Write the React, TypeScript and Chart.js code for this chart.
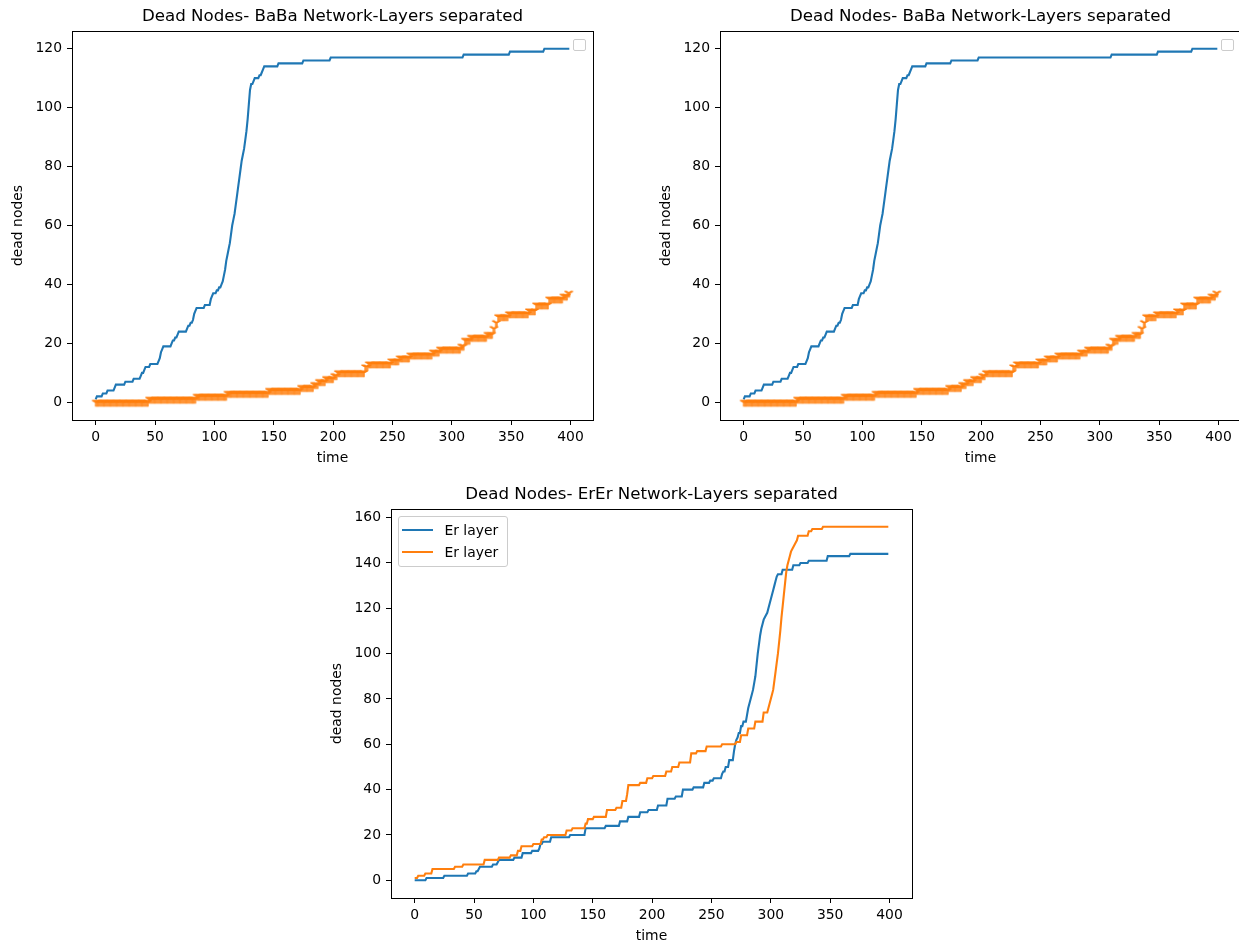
import React, { useEffect, useRef } from "react";
import { Chart, registerables } from "chart.js";

Chart.register(...registerables);

// ---------- data (one value per time step, t = 0..399) ----------
const babaLayer1: number[] = [
  1, 2, 2, 2, 2, 2, 3, 3, 3, 3, 4, 4, 4, 4, 4, 4, 5, 6, 6, 6,
  6, 6, 6, 6, 6, 7, 7, 7, 7, 7, 7, 7, 8, 8, 8, 8, 8, 8, 9, 10,
  10, 11, 12, 12, 12, 12, 13, 13, 13, 13, 13, 13, 13, 14, 15, 17, 18, 19, 19, 19,
  19, 19, 19, 19, 20, 21, 21, 22, 22, 23, 24, 24, 24, 24, 24, 24, 24, 25, 26, 26,
  27, 27, 28, 30, 31, 32, 32, 32, 32, 32, 32, 32, 33, 33, 33, 33, 33, 35, 36, 37,
  37, 37, 38, 38, 39, 39, 40, 41, 43, 45, 48, 50, 52, 54, 57, 60, 62, 64, 67, 70,
  73, 76, 79, 82, 84, 86, 89, 92, 96, 101, 106, 108, 108, 109, 110, 110, 110, 110, 111, 111,
  112, 113, 114, 114, 114, 114, 114, 114, 114, 114, 114, 114, 114, 114, 115, 115, 115, 115, 115, 115,
  115, 115, 115, 115, 115, 115, 115, 115, 115, 115, 115, 115, 115, 115, 115, 116, 116, 116, 116, 116,
  116, 116, 116, 116, 116, 116, 116, 116, 116, 116, 116, 116, 116, 116, 116, 116, 116, 116, 117, 117,
  117, 117, 117, 117, 117, 117, 117, 117, 117, 117, 117, 117, 117, 117, 117, 117, 117, 117, 117, 117,
  117, 117, 117, 117, 117, 117, 117, 117, 117, 117, 117, 117, 117, 117, 117, 117, 117, 117, 117, 117,
  117, 117, 117, 117, 117, 117, 117, 117, 117, 117, 117, 117, 117, 117, 117, 117, 117, 117, 117, 117,
  117, 117, 117, 117, 117, 117, 117, 117, 117, 117, 117, 117, 117, 117, 117, 117, 117, 117, 117, 117,
  117, 117, 117, 117, 117, 117, 117, 117, 117, 117, 117, 117, 117, 117, 117, 117, 117, 117, 117, 117,
  117, 117, 117, 117, 117, 117, 117, 117, 117, 117, 118, 118, 118, 118, 118, 118, 118, 118, 118, 118,
  118, 118, 118, 118, 118, 118, 118, 118, 118, 118, 118, 118, 118, 118, 118, 118, 118, 118, 118, 118,
  118, 118, 118, 118, 118, 118, 118, 118, 118, 119, 119, 119, 119, 119, 119, 119, 119, 119, 119, 119,
  119, 119, 119, 119, 119, 119, 119, 119, 119, 119, 119, 119, 119, 119, 119, 119, 119, 119, 120, 120,
  120, 120, 120, 120, 120, 120, 120, 120, 120, 120, 120, 120, 120, 120, 120, 120, 120, 120, 120, 120,
];

const babaLayer2: number[] = [
  0, 0, 0, 0, 0, 0, 0, 0, 0, 0, 0, 0, 0, 0, 0, 0, 0, 0, 0, 0,
  0, 0, 0, 0, 0, 0, 0, 0, 0, 0, 0, 0, 0, 0, 0, 0, 0, 0, 0, 0,
  0, 0, 0, 0, 0, 1, 1, 1, 1, 1, 1, 1, 1, 1, 1, 1, 1, 1, 1, 1,
  1, 1, 1, 1, 1, 1, 1, 1, 1, 1, 1, 1, 1, 1, 1, 1, 1, 1, 1, 1,
  1, 1, 1, 1, 1, 2, 2, 2, 2, 2, 2, 2, 2, 2, 2, 2, 2, 2, 2, 2,
  2, 2, 2, 2, 2, 2, 2, 2, 2, 2, 2, 3, 3, 3, 3, 3, 3, 3, 3, 3,
  3, 3, 3, 3, 3, 3, 3, 3, 3, 3, 3, 3, 3, 3, 3, 3, 3, 3, 3, 3,
  3, 3, 3, 3, 3, 3, 4, 4, 4, 4, 4, 4, 4, 4, 4, 4, 4, 4, 4, 4,
  4, 4, 4, 4, 4, 4, 4, 4, 4, 4, 4, 4, 4, 5, 5, 5, 5, 5, 5, 5,
  5, 5, 5, 5, 6, 6, 6, 6, 7, 7, 7, 7, 7, 7, 8, 8, 8, 8, 8, 8,
  8, 9, 9, 9, 10, 10, 10, 10, 10, 10, 10, 10, 10, 10, 10, 10, 10, 10, 10, 10,
  10, 10, 10, 10, 10, 10, 10, 12, 12, 12, 13, 13, 13, 13, 13, 13, 13, 13, 13, 13,
  13, 13, 13, 13, 13, 13, 13, 13, 13, 14, 14, 14, 14, 14, 14, 14, 15, 15, 15, 15,
  15, 15, 15, 15, 15, 16, 16, 16, 16, 16, 16, 16, 16, 16, 16, 16, 16, 16, 16, 16,
  16, 16, 16, 16, 17, 17, 17, 17, 17, 17, 18, 18, 18, 18, 18, 18, 18, 18, 18, 18,
  18, 18, 18, 18, 18, 18, 18, 18, 19, 19, 19, 21, 21, 21, 21, 21, 22, 22, 22, 22,
  22, 22, 22, 22, 22, 22, 22, 22, 22, 22, 23, 23, 23, 23, 23, 25, 25, 27, 27, 29,
  29, 29, 29, 29, 29, 29, 29, 29, 30, 30, 30, 30, 30, 30, 30, 30, 30, 30, 30, 30,
  30, 30, 30, 30, 30, 31, 31, 31, 31, 31, 31, 33, 33, 33, 33, 33, 33, 33, 33, 33,
  33, 33, 35, 35, 35, 35, 35, 35, 35, 35, 35, 35, 35, 35, 36, 36, 36, 36, 37, 37,
];

const erLayerA: number[] = [
  0, 0, 0, 0, 0, 0, 0, 0, 0, 0, 1, 1, 1, 1, 1, 1, 1, 1, 1, 1,
  1, 1, 1, 1, 1, 2, 2, 2, 2, 2, 2, 2, 2, 2, 2, 2, 2, 2, 2, 2,
  2, 2, 2, 2, 2, 3, 3, 3, 3, 3, 3, 3, 4, 4, 5, 6, 6, 6, 6, 6,
  6, 6, 6, 6, 6, 6, 7, 7, 7, 7, 8, 9, 9, 9, 9, 9, 9, 9, 9, 9,
  9, 9, 9, 9, 10, 10, 10, 10, 10, 10, 10, 12, 12, 12, 12, 12, 12, 12, 12, 13,
  13, 13, 13, 13, 13, 14, 16, 16, 17, 17, 17, 17, 17, 17, 17, 19, 19, 19, 19, 19,
  19, 19, 19, 19, 19, 19, 19, 19, 19, 19, 19, 20, 20, 20, 20, 20, 20, 20, 20, 20,
  20, 20, 20, 20, 23, 23, 23, 23, 23, 23, 23, 23, 23, 23, 23, 23, 23, 23, 23, 23,
  23, 24, 24, 24, 24, 24, 24, 24, 24, 24, 24, 24, 24, 26, 26, 26, 26, 26, 26, 26,
  28, 28, 28, 28, 28, 28, 28, 28, 28, 28, 30, 30, 30, 30, 30, 30, 30, 31, 31, 31,
  31, 31, 31, 31, 31, 33, 33, 33, 33, 33, 33, 33, 33, 36, 36, 36, 36, 36, 36, 36,
  37, 37, 37, 37, 37, 37, 40, 40, 40, 40, 40, 40, 40, 40, 40, 41, 41, 41, 41, 41,
  41, 41, 41, 41, 43, 43, 43, 43, 43, 44, 44, 44, 45, 45, 45, 45, 45, 45, 45, 47,
  48, 48, 50, 50, 50, 53, 53, 53, 53, 57, 60, 62, 63, 65, 65, 68, 68, 70, 70, 70,
  73, 76, 78, 80, 82, 84, 87, 90, 95, 100, 104, 108, 111, 113, 115, 116, 117, 118, 120, 122,
  124, 126, 128, 130, 132, 134, 135, 135, 135, 135, 137, 137, 137, 137, 137, 137, 137, 137, 137, 139,
  139, 139, 139, 139, 139, 140, 140, 140, 140, 140, 140, 140, 141, 141, 141, 141, 141, 141, 141, 141,
  141, 141, 141, 141, 141, 141, 141, 141, 143, 143, 143, 143, 143, 143, 143, 143, 143, 143, 143, 143,
  143, 143, 143, 143, 143, 143, 143, 144, 144, 144, 144, 144, 144, 144, 144, 144, 144, 144, 144, 144,
  144, 144, 144, 144, 144, 144, 144, 144, 144, 144, 144, 144, 144, 144, 144, 144, 144, 144, 144, 144,
];

const erLayerB: number[] = [
  1, 1, 1, 2, 2, 2, 2, 2, 2, 3, 3, 3, 3, 3, 3, 5, 5, 5, 5, 5,
  5, 5, 5, 5, 5, 5, 5, 5, 5, 5, 5, 5, 5, 5, 6, 6, 6, 6, 6, 6,
  6, 7, 7, 7, 7, 7, 7, 7, 7, 7, 7, 7, 7, 7, 7, 7, 7, 7, 7, 9,
  9, 9, 9, 9, 9, 9, 9, 9, 9, 9, 9, 10, 10, 10, 10, 10, 10, 10, 10, 10,
  10, 11, 11, 11, 11, 11, 11, 13, 13, 13, 15, 15, 15, 15, 15, 15, 15, 15, 15, 15,
  16, 16, 16, 16, 16, 16, 16, 18, 18, 19, 19, 19, 20, 20, 20, 20, 20, 20, 20, 20,
  20, 20, 20, 20, 20, 20, 20, 20, 22, 22, 22, 22, 22, 23, 23, 23, 23, 23, 23, 23,
  23, 23, 23, 23, 25, 25, 27, 27, 27, 27, 27, 28, 28, 28, 28, 28, 28, 28, 28, 28,
  28, 28, 31, 31, 31, 31, 31, 31, 31, 31, 32, 32, 32, 32, 32, 35, 35, 35, 35, 38,
  42, 42, 42, 42, 42, 42, 42, 42, 42, 42, 43, 43, 43, 43, 43, 43, 45, 45, 45, 45,
  45, 46, 46, 46, 46, 46, 46, 46, 46, 46, 46, 46, 48, 48, 48, 48, 48, 50, 50, 50,
  50, 50, 50, 52, 52, 52, 52, 52, 52, 52, 52, 52, 52, 56, 56, 56, 56, 56, 57, 57,
  57, 57, 57, 57, 57, 57, 59, 59, 59, 59, 59, 59, 59, 59, 59, 59, 59, 59, 59, 60,
  60, 60, 60, 60, 60, 60, 60, 60, 60, 60, 60, 61, 61, 61, 61, 64, 64, 64, 64, 64,
  64, 67, 67, 67, 67, 67, 67, 70, 70, 70, 70, 70, 70, 70, 74, 74, 74, 74, 76, 78,
  80, 82, 84, 88, 92, 96, 100, 105, 110, 116, 121, 126, 131, 136, 139, 141, 143, 145, 146, 147,
  148, 149, 150, 152, 152, 152, 152, 152, 152, 152, 152, 152, 154, 154, 154, 155, 155, 155, 155, 155,
  155, 155, 155, 155, 156, 156, 156, 156, 156, 156, 156, 156, 156, 156, 156, 156, 156, 156, 156, 156,
  156, 156, 156, 156, 156, 156, 156, 156, 156, 156, 156, 156, 156, 156, 156, 156, 156, 156, 156, 156,
  156, 156, 156, 156, 156, 156, 156, 156, 156, 156, 156, 156, 156, 156, 156, 156, 156, 156, 156, 156,
];

const xTicks: number[] = [0, 50, 100, 150, 200, 250, 300, 350, 400];
const babaYTicks: number[] = [0, 20, 40, 60, 80, 100, 120];
const erYTicks: number[] = [0, 20, 40, 60, 80, 100, 120, 140, 160];

const babaTitle = "Dead Nodes- BaBa Network-Layers separated";
const erTitle = "Dead Nodes- ErEr Network-Layers separated";
const erLabels: string[] = ["Er layer", "Er layer"];
const xLabel = "time";
const yLabel = "dead nodes";

// ---------- style ----------
const BLUE = "#1f77b4";
const ORANGE = "#ff7f0e";
const FONT = "'DejaVu Sans', sans-serif";

const toPoints = (vals: number[]) => vals.map((v, i) => ({ x: i, y: v }));

function makeTriDown(color: string): HTMLCanvasElement {
  const c = document.createElement("canvas");
  c.width = 12;
  c.height = 12;
  const g = c.getContext("2d")!;
  g.strokeStyle = color;
  g.lineWidth = 1.4;
  const cx = 6, cy = 6, r = 4.17;
  g.beginPath();
  g.moveTo(cx, cy);
  g.lineTo(cx, cy + r);
  g.moveTo(cx, cy);
  g.lineTo(cx - 0.866 * r, cy - 0.5 * r);
  g.moveTo(cx, cy);
  g.lineTo(cx + 0.866 * r, cy - 0.5 * r);
  g.stroke();
  return c;
}

const framePlugin = {
  id: "frame",
  afterDraw(chart: any) {
    const { ctx, chartArea: a } = chart;
    ctx.save();
    ctx.strokeStyle = "#000";
    ctx.lineWidth = 1;
    ctx.beginPath();
    ctx.moveTo(a.left, a.top + 0.5);
    ctx.lineTo(a.right + 1, a.top + 0.5);
    ctx.moveTo(a.right + 0.5, a.top);
    ctx.lineTo(a.right + 0.5, a.bottom + 1);
    ctx.stroke();
    ctx.restore();
  },
};

function makeConfig(datasets: any[], title: string, yMin: number, yMax: number, yTicks: number[]): any {
  const tickFont = { family: FONT, size: 13.9 };
  const grid = {
    display: true,
    drawOnChartArea: false,
    drawTicks: true,
    tickLength: 5,
    tickColor: "#000",
    tickWidth: 1,
  };
  const border = { display: true, color: "#000", width: 1 };
  return {
    type: "line",
    data: { datasets },
    options: {
      responsive: false,
      animation: false,
      events: [],
      layout: { padding: { left: 0, right: 27, top: 0, bottom: 0 } },
      plugins: {
        legend: { display: false },
        tooltip: { enabled: false },
        title: {
          display: true,
          text: title,
          color: "#000",
          fullSize: false,
          font: { family: FONT, size: 16.67, weight: "normal" },
          padding: { top: 7, bottom: 4 },
        },
      },
      scales: {
        x: {
          type: "linear",
          min: -19.95,
          max: 418.95,
          afterBuildTicks: (s: any) => {
            s.ticks = xTicks.map((v) => ({ value: v }));
          },
          afterFit: (s: any) => {
            s.height = 50;
          },
          ticks: { autoSkip: false, maxRotation: 0, minRotation: 0, padding: 4.5, color: "#000", font: tickFont },
          grid,
          border,
          title: {
            display: true,
            text: xLabel,
            color: "#000",
            font: tickFont,
            padding: { top: 0, bottom: 3.7 },
          },
        },
        y: {
          type: "linear",
          min: yMin,
          max: yMax,
          afterBuildTicks: (s: any) => {
            s.ticks = yTicks.map((v) => ({ value: v }));
          },
          afterFit: (s: any) => {
            s.width = 72;
          },
          ticks: { padding: 5, color: "#000", font: tickFont },
          grid,
          border,
          title: {
            display: true,
            text: yLabel,
            color: "#000",
            font: tickFont,
            padding: { top: 10.5, bottom: 0 },
          },
        },
      },
    },
    plugins: [framePlugin],
  };
}

function babaDatasets(tri: HTMLCanvasElement) {
  return [
    {
      label: "layer 1",
      data: toPoints(babaLayer1),
      borderColor: BLUE,
      backgroundColor: BLUE,
      borderWidth: 2.1,
      pointRadius: 0,
      tension: 0,
      order: 2,
    },
    {
      label: "layer 2",
      data: toPoints(babaLayer2),
      borderColor: ORANGE,
      backgroundColor: ORANGE,
      showLine: false,
      pointStyle: tri,
      pointRadius: 4,
      order: 1,
    },
  ];
}

function erDatasets() {
  return [
    {
      label: erLabels[0],
      data: toPoints(erLayerA),
      borderColor: BLUE,
      backgroundColor: BLUE,
      borderWidth: 2.1,
      pointRadius: 0,
      tension: 0,
      order: 2,
    },
    {
      label: erLabels[1],
      data: toPoints(erLayerB),
      borderColor: ORANGE,
      backgroundColor: ORANGE,
      borderWidth: 2.1,
      pointRadius: 0,
      tension: 0,
      order: 1,
    },
  ];
}

const canvasStyle = (left: number, top: number): React.CSSProperties => ({
  position: "absolute",
  left,
  top,
  width: 620,
  height: 470,
});

const emptyLegendStyle = (left: number): React.CSSProperties => ({
  position: "absolute",
  left,
  top: 39,
  width: 13,
  height: 12,
  boxSizing: "border-box",
  border: "1px solid #cccccc",
  borderRadius: 2,
  background: "rgba(255,255,255,0.8)",
});

export default function App() {
  const refA = useRef<HTMLCanvasElement>(null);
  const refB = useRef<HTMLCanvasElement>(null);
  const refC = useRef<HTMLCanvasElement>(null);

  useEffect(() => {
    Chart.defaults.font.family = FONT;
    const tri = makeTriDown(ORANGE);
    const charts = [
      new Chart(refA.current!, makeConfig(babaDatasets(tri), babaTitle, -6, 126, babaYTicks)),
      new Chart(refB.current!, makeConfig(babaDatasets(tri), babaTitle, -6, 126, babaYTicks)),
      new Chart(refC.current!, makeConfig(erDatasets(), erTitle, -7.8, 163.8, erYTicks)),
    ];
    return () => charts.forEach((c) => c.destroy());
  }, []);

  const legendColors = [BLUE, ORANGE];

  return (
    <div
      style={{
        position: "fixed",
        left: 0,
        top: 0,
        width: 1239,
        height: 943,
        overflow: "hidden",
        background: "#fff",
        fontFamily: FONT,
      }}
    >
      <canvas ref={refA} width={620} height={470} style={canvasStyle(0, 0)} />
      <canvas ref={refB} width={620} height={470} style={canvasStyle(648, 0)} />
      <canvas ref={refC} width={620} height={470} style={canvasStyle(319, 478)} />

      <div style={emptyLegendStyle(573)} />
      <div style={emptyLegendStyle(1221)} />

      <div
        style={{
          position: "absolute",
          left: 398,
          top: 516,
          width: 110,
          height: 51,
          boxSizing: "border-box",
          border: "1px solid #cccccc",
          borderRadius: 3,
          background: "rgba(255,255,255,0.8)",
        }}
      >
        {erLabels.map((lab, i) => (
          <div
            key={i}
            style={{
              position: "absolute",
              left: 0,
              top: i === 0 ? 3.7 : 26.4,
              height: 18,
              display: "flex",
              alignItems: "center",
            }}
          >
            <span
              style={{
                display: "inline-block",
                marginLeft: 3.4,
                width: 31,
                height: 2,
                background: legendColors[i],
              }}
            />
            <span
              style={{
                marginLeft: 11,
                fontSize: 13.9,
                lineHeight: "18px",
                color: "#000",
                whiteSpace: "nowrap",
              }}
            >
              {lab}
            </span>
          </div>
        ))}
      </div>
    </div>
  );
}
